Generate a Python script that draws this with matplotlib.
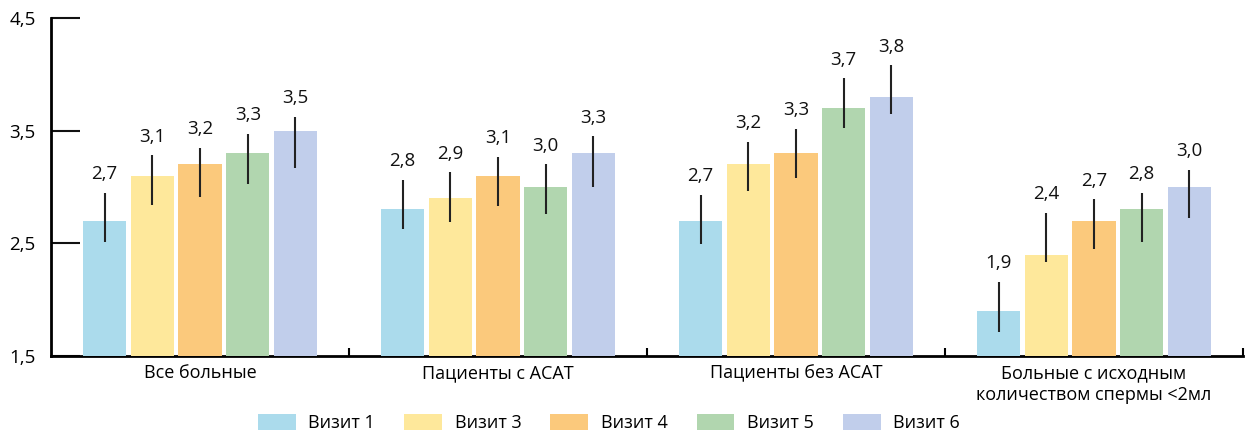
import numpy as np
import matplotlib.pyplot as plt

plt.rcParams['font.family'] = ['Open Sans', 'DejaVu Sans']

categories = ['Все больные', 'Пациенты с АСАТ', 'Пациенты без АСАТ',
              'Больные с исходным\nколичеством спермы <2мл']
series = ['Визит 1', 'Визит 3', 'Визит 4', 'Визит 5', 'Визит 6']
colors = ['#abdbec', '#fee89b', '#fbc97c', '#b1d6af', '#c1ceeb']

# values per visit (rows = visits, cols = categories)
values = np.array([
    [2.7, 2.8, 2.7, 1.9],
    [3.1, 2.9, 3.2, 2.4],
    [3.2, 3.1, 3.3, 2.7],
    [3.3, 3.0, 3.7, 2.8],
    [3.5, 3.3, 3.8, 3.0],
])
# error bar extents (below / above bar top)
err_lo = np.array([
    [0.19, 0.17, 0.21, 0.19],
    [0.26, 0.215, 0.24, 0.07],
    [0.29, 0.27, 0.22, 0.25],
    [0.27, 0.24, 0.18, 0.29],
    [0.33, 0.30, 0.15, 0.28],
])
err_hi = np.array([
    [0.25, 0.26, 0.23, 0.26],
    [0.18, 0.23, 0.20, 0.37],
    [0.15, 0.17, 0.215, 0.19],
    [0.17, 0.20, 0.265, 0.15],
    [0.12, 0.15, 0.28, 0.15],
])
labels = ['2,7', '2,8', '2,7', '1,9',
          '3,1', '2,9', '3,2', '2,4',
          '3,2', '3,1', '3,3', '2,7',
          '3,3', '3,0', '3,7', '2,8',
          '3,5', '3,3', '3,8', '3,0']

fig = plt.figure(figsize=(12.46, 4.34), dpi=100)
ax = fig.add_axes([0.041, 0.18, 0.9566, 0.7785])

x = np.arange(len(categories))
step = 0.16
width = 0.145
for i in range(len(series)):
    xs = x + (i - 2) * step
    ax.bar(xs, values[i] - 1.5, width, bottom=1.5, color=colors[i],
           label=series[i], zorder=3)
    ax.errorbar(xs, values[i], yerr=[err_lo[i], err_hi[i]], fmt='none',
                ecolor='#222222', elinewidth=1.5, capsize=0, zorder=4)
    for j in range(len(categories)):
        ax.annotate(labels[i * len(categories) + j],
                    (xs[j], values[i][j] + err_hi[i][j]),
                    xytext=(0, 7), textcoords='offset points',
                    ha='center', va='bottom', fontsize=13.5, color='#111111')

ax.set_xlim(-0.5, 3.5)
ax.set_ylim(1.5, 4.5)
ax.set_yticks([1.5, 2.5, 3.5, 4.5])
ax.set_yticklabels(['1,5', '2,5', '3,5', '4,5'], fontsize=13.5)
ax.tick_params(axis='y', direction='in', length=21, width=1.5, pad=11,
               color='#111111')
ax.set_xticks(x)
ax.set_xticklabels(categories, fontsize=13, va='top', linespacing=1.3)
ax.tick_params(axis='x', length=0, pad=6)
ax.set_xticks([0.5, 1.5, 2.5, 3.5], minor=True)
ax.tick_params(axis='x', which='minor', direction='in', length=6, width=1.5)

for s in ['top', 'right']:
    ax.spines[s].set_visible(False)
ax.spines['left'].set_linewidth(2)
ax.spines['bottom'].set_linewidth(2)
ax.spines['bottom'].set_zorder(2)

ax.legend(loc='center', bbox_to_anchor=(0.468, -0.198), ncol=5, frameon=False,
          fontsize=13, handlelength=2.1, handleheight=1.0, handletextpad=0.7,
          columnspacing=1.6)

fig.savefig('out.png', dpi=100)
